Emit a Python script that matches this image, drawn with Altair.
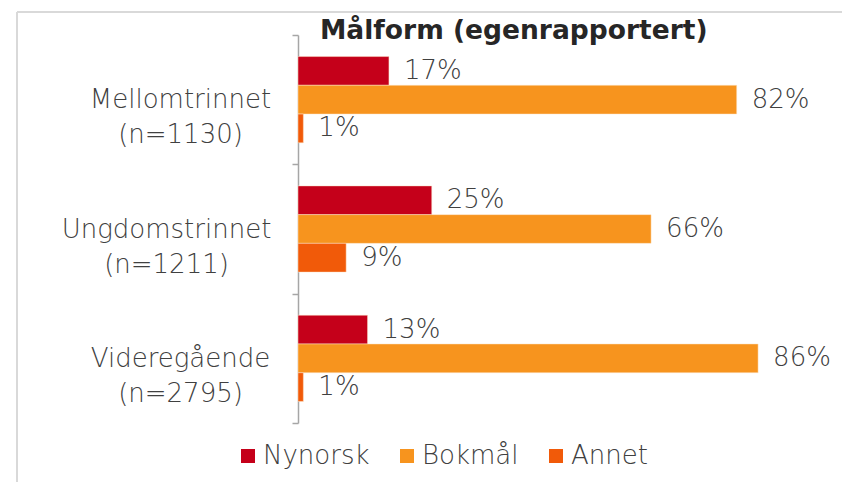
import altair as alt
import pandas as pd

categories = ["Mellomtrinnet\n(n=1130)", "Ungdomstrinnet\n(n=1211)", "Videregående\n(n=2795)"]
series = ["Nynorsk", "Bokmål", "Annet"]
nynorsk = [17, 25, 13]
bokmal = [82, 66, 86]
annet = [1, 9, 1]
colors = ["#C5001A", "#F7941E", "#F15A09"]
title_text = "Målform (egenrapportert)"

rows = []
for i, c in enumerate(categories):
    for s, vals in zip(series, [nynorsk, bokmal, annet]):
        rows.append({"cat": c, "series": s, "value": vals[i]})
df = pd.DataFrame(rows)

FONT = "DejaVu Sans"
GRAY = "#404040"
FS = 26

base = alt.Chart(df).encode(
    y=alt.Y("cat:N", sort=categories,
            scale=alt.Scale(paddingInner=0, paddingOuter=0),
            axis=alt.Axis(title=None, labelExpr="split(datum.label, '\\n')",
                          labelFont=FONT, labelFontSize=FS, labelFontWeight=200,
                          labelColor=GRAY, labelLimit=0,
                          labelLineHeight=35,
                          labelPadding={"condition": {"test": "indexof(datum.label, 'Ungdom') >= 0",
                                                      "value": 126},
                                        "value": 112},
                          domainColor="#a6a6a6", tickColor="#a6a6a6",
                          domainWidth=1.5, tickWidth=1.5,
                          tickBand="extent", tickSize=6, labelAlign="center")),
    yOffset=alt.YOffset("series:N", sort=series,
                        scale=alt.Scale(paddingInner=0, paddingOuter=0.75)),
)

bars = base.mark_bar(stroke="#fde5c8", strokeWidth=0.5).encode(
    x=alt.X("value:Q", scale=alt.Scale(domain=[0, 100]), axis=None),
    color=alt.Color("series:N", sort=series,
                    scale=alt.Scale(domain=series, range=colors),
                    legend=alt.Legend(title=None, orient="none", direction="horizontal",
                                      legendX=-63, legendY=408, padding=0,
                                      symbolType="square", symbolSize=196,
                                      symbolStrokeWidth=0, labelOffset=2,
                                      columnPadding=24, gridAlign="each",
                                      labelFont=FONT, labelFontSize=FS,
                                      labelFontWeight=200,
                                      labelColor=GRAY)),
)

labels = base.mark_text(align="left", baseline="middle", dx=15, font=FONT,
                        fontSize=FS, fontWeight=200, color=GRAY).transform_calculate(
    label="datum.value + '%'"
).encode(
    x=alt.X("value:Q", scale=alt.Scale(domain=[0, 100])),
    text="label:N",
)

title = alt.Chart(pd.DataFrame({"t": [title_text]})).mark_text(
    align="left", baseline="alphabetic", font=FONT, fontSize=26.5,
    fontWeight="bold", color="#262626"
).encode(x=alt.value(22), y=alt.value(4), text="t:N")

frame_left = alt.Chart(df).mark_rule(color="#d9d9d9", strokeWidth=1.5).encode(
    x=alt.value(-281), y=alt.value(-23), y2=alt.value(460))
frame_top = alt.Chart(df).mark_rule(color="#d9d9d9", strokeWidth=1.5).encode(
    x=alt.value(-281), x2=alt.value(560), y=alt.value(-23))

chart = alt.layer(frame_left, frame_top, bars, labels, title).properties(
    width=535, height=388,
    autosize=alt.AutoSizeParams(type="none"),
    padding={"left": 290, "top": 27, "right": 9, "bottom": 59},
).configure_view(stroke=None)

chart.save("out.html", embed_options={"renderer": "svg", "actions": False})
